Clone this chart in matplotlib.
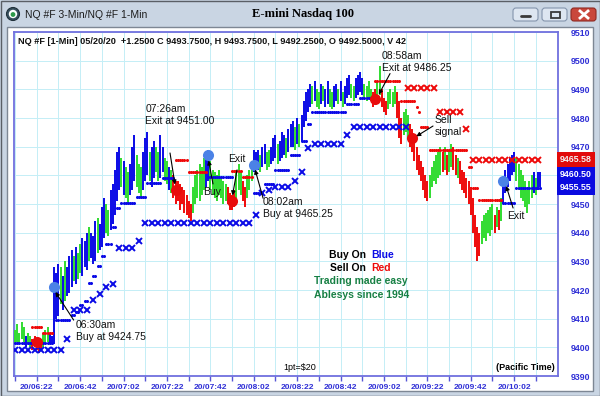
import numpy as np
import matplotlib
matplotlib.use("Agg")
import matplotlib.pyplot as plt
from matplotlib.patches import Rectangle, FancyBboxPatch, Circle
from matplotlib.colors import LinearSegmentedColormap
import matplotlib.transforms as mtransforms

plt.rcParams['font.family'] = ['Liberation Sans', 'DejaVu Sans']

START = 6 * 60 + 12  # first 1-min bar is 06:12 (Pacific)

# 1-min bars: low / high / colour (b=blue, g=green, r=red), one per minute from 06:12
lows = [
    9401, 9402, 9401, 9403, 9402, 9400, 9401, 9400, 9399, 9400, 9399, 9398, 9399, 9400, 9401, 9402, 9401, 9401, 9401, 9410,
    9411, 9415, 9413, 9416, 9418, 9419, 9421, 9423, 9422, 9424, 9426, 9425, 9428, 9427, 9430, 9431, 9429, 9430, 9433, 9434,
    9435, 9438, 9440, 9439, 9441, 9443, 9446, 9451, 9455, 9456, 9453, 9452, 9450, 9453, 9455, 9458, 9456, 9454, 9452, 9455,
    9458, 9460, 9458, 9456, 9459, 9461, 9458, 9459, 9461, 9458, 9457, 9455, 9454, 9452, 9450, 9451, 9448, 9450, 9447, 9446,
    9445, 9444, 9447, 9450, 9452, 9451, 9453, 9455, 9456, 9458, 9455, 9453, 9452, 9451, 9453, 9452, 9450, 9451, 9450, 9448,
    9448, 9449, 9452, 9455, 9453, 9451, 9449, 9452, 9455, 9458, 9461, 9462, 9462, 9461, 9463, 9464, 9462, 9463, 9464, 9465,
    9466, 9464, 9465, 9466, 9467, 9466, 9468, 9470, 9470, 9469, 9471, 9470, 9472, 9477, 9479, 9482, 9484, 9485, 9486, 9484,
    9483, 9485, 9486, 9484, 9485, 9484, 9483, 9484, 9486, 9485, 9486, 9484, 9485, 9487, 9488, 9487, 9486, 9487, 9488, 9489,
    9488, 9487, 9486, 9487, 9486, 9484, 9485, 9486, 9488, 9484, 9482, 9481, 9483, 9485, 9484, 9485, 9480, 9473, 9471, 9474,
    9475, 9473, 9470, 9468, 9465, 9462, 9460, 9458, 9455, 9452, 9451, 9452, 9456, 9458, 9457, 9459, 9460, 9461, 9462, 9460,
    9461, 9463, 9462, 9460, 9459, 9457, 9455, 9454, 9452, 9450, 9446, 9440, 9435, 9430, 9432, 9436, 9438, 9437, 9440, 9439,
    9441, 9440, 9442, 9441, 9444, 9450, 9454, 9456, 9458, 9460, 9461, 9458, 9455, 9452, 9451, 9449, 9447, 9450, 9452, 9454,
    9453, 9455, 9456,
]
highs = [
    9406, 9408, 9405, 9409, 9407, 9404, 9405, 9404, 9403, 9404, 9402, 9402, 9403, 9405, 9406, 9407, 9405, 9404, 9428, 9426,
    9429, 9428, 9425, 9430, 9428, 9432, 9434, 9432, 9435, 9433, 9436, 9438, 9437, 9440, 9442, 9440, 9439, 9444, 9445, 9443,
    9449, 9452, 9450, 9448, 9455, 9457, 9462, 9468, 9470, 9466, 9465, 9463, 9461, 9464, 9470, 9474, 9467, 9464, 9463, 9468,
    9473, 9475, 9468, 9470, 9472, 9470, 9468, 9474, 9470, 9466, 9465, 9463, 9462, 9460, 9458, 9458, 9457, 9456, 9455, 9453,
    9451, 9450, 9456, 9460, 9462, 9464, 9463, 9466, 9468, 9469, 9465, 9462, 9461, 9460, 9462, 9459, 9458, 9457, 9456, 9454,
    9453, 9455, 9462, 9464, 9461, 9458, 9456, 9460, 9462, 9465, 9469, 9468, 9469, 9467, 9470, 9471, 9468, 9469, 9470, 9473,
    9474, 9471, 9472, 9475, 9474, 9473, 9476, 9478, 9479, 9477, 9480, 9478, 9481, 9486, 9489, 9490, 9492, 9491, 9493, 9490,
    9489, 9492, 9491, 9490, 9493, 9490, 9489, 9491, 9492, 9490, 9493, 9489, 9491, 9494, 9495, 9492, 9491, 9494, 9495, 9496,
    9494, 9492, 9491, 9493, 9490, 9489, 9490, 9493, 9498, 9490, 9487, 9486, 9489, 9490, 9489, 9491, 9489, 9486, 9480, 9482,
    9483, 9481, 9478, 9476, 9474, 9470, 9467, 9465, 9463, 9460, 9458, 9460, 9463, 9465, 9467, 9468, 9470, 9468, 9470, 9467,
    9469, 9471, 9470, 9467, 9466, 9465, 9462, 9461, 9459, 9458, 9456, 9452, 9446, 9442, 9440, 9444, 9446, 9447, 9448, 9449,
    9450, 9446, 9449, 9448, 9452, 9458, 9462, 9464, 9466, 9467, 9468, 9466, 9464, 9462, 9460, 9458, 9455, 9458, 9460, 9461,
    9459, 9461, 9461,
]
bar_colors = ("gggggbggrrrrrgggbbbb" "bgbgbbbgbggbbbgbbbgb" "bbggbbbbbgbggbbbgggb"
              "bbgbbggbbggbgrrrrrrr" "rrggggggbbggggggggrr" "rrgggrrgggbbbgbbggbb"
              "bgbbbgbbbgbgbbbbbgbg" "gbgbbggbbgbgbbbggbbb" "bggggrrggrrrggggrrrg"
              "ggrrrrrrrrrggggggrgr" "ggrrgrrrrrrrrrrggggg" "grgrgbbbbbbggggggggb"
              "gbb")

# trailing stops (dots, 1-min): (first minute, last minute, price)
blue_dot_steps = [
    (0, 17, 9401.5), (19, 25, 9409.5), (26, 27, 9411.3), (28, 29, 9412.5), (30, 31, 9414.8),
    (32, 33, 9416), (34, 35, 9422.4), (36, 37, 9425), (38, 39, 9428.5), (40, 41, 9432),
    (42, 44, 9436), (45, 46, 9442), (47, 48, 9448.6), (49, 55, 9450.4), (56, 60, 9452.5),
    (61, 67, 9457.5), (68, 73, 9459), (89, 100, 9459.3), (110, 114, 9454), (115, 119, 9457),
    (120, 126, 9462), (127, 131, 9467), (132, 134, 9472), (135, 136, 9478), (137, 152, 9482),
    (153, 158, 9485), (159, 165, 9487), (225, 230, 9450.3), (231, 242, 9455.6),
]
red_dot_steps = [
    (8, 12, 9407), (13, 17, 9405), (74, 79, 9465.5), (80, 88, 9461), (100, 104, 9461.5),
    (105, 109, 9459.5), (166, 177, 9493), (178, 184, 9486), (185, 185, 9484), (186, 186, 9482),
    (187, 190, 9477), (191, 208, 9469), (209, 210, 9463), (211, 213, 9455.6), (214, 224, 9451.4),
]

# 3-min stops (crosses)
blue_x_t = list(range(0, 181, 3))
blue_x_v = [9399] * 8 + [9403] + [9413] * 3 + [9416.5, 9418.5, 9421, 9422] + [9434.5] * 3 + [9437] \
    + [9443.5] * 17 + [9446, 9454, 9455, 9456, 9456, 9456, 9458, 9461, 9469.5] + [9471] * 5 + [9474] + [9477] * 9
red_x_t = list(range(181, 242, 3))
red_x_v = [9490.5] * 5 + [9482] * 4 + [9476] + [9465.5] * 11

# entry / exit signals
buy_t = [18, 89, 110, 225]
buy_v = [9421, 9467, 9463.6, 9458]
sell_t = [10, 74, 100, 166, 183]
sell_v = [9402, 9455, 9451, 9486.6, 9473]

# call-outs: text, text anchor (minute, price), arrow start, arrow tip
notes = [
    ("06:30am\nBuy at 9424.75", (28.1, 9409.5), (27.0, 9409.5), (18.6, 9419.3)),
    ("07:26am\nExit at 9451.00", (60.0, 9485.0), (71.4, 9467.8), (73.7, 9456.8)),
    ("Exit", (98.0, 9467.5), (102.3, 9461.9), (100.2, 9453.0)),
    ("Buy", (86.6, 9456.0), (91.2, 9457.0), (89.2, 9465.2)),
    ("08:02am\nBuy at 9465.25", (114.3, 9452.5), (114.3, 9452.0), (110.6, 9462.0)),
    ("08:58am\nExit at 9486.25", (169.0, 9503.5), (172.8, 9495.5), (167.6, 9488.2)),
    ("Sell\nsignal", (193.5, 9481.0), (192.6, 9477.2), (184.9, 9473.6)),
    ("Exit", (226.7, 9447.5), (229.5, 9448.6), (226.3, 9456.3)),
]

y_ticks = list(range(9390, 9511, 10))
last_red = 9465.58
last_blue = [9460.50, 9455.55]

BLUE = '#0a0ae6'
GREEN = '#30dc30'
RED = '#ee0a0a'
cmap = {'b': BLUE, 'g': GREEN, 'r': RED}

W, H = 600, 396
fig = plt.figure(figsize=(6, 3.96), dpi=100)

# ---- window chrome, pixel coordinates ----
bg = fig.add_axes([0, 0, 1, 1])
bg.axis('off')
bg.add_patch(Rectangle((0, 0), W, H, color='#c9d5e3'))
grad = np.linspace(0, 1, 50)[:, None]
bg.imshow(grad, extent=(0, W, 27, 0), aspect='auto',
          cmap=LinearSegmentedColormap.from_list('tb', ['#e6eef8', '#c6d6ea']))
bg.add_patch(Rectangle((7, 27), W - 14, H - 32, fc='white', ec='#7d8794', lw=1))
bg.add_patch(Rectangle((0.5, 0.5), W - 1, H - 1, fill=False, ec='#5a5f66', lw=1))
bg.set_xlim(0, W)
bg.set_ylim(H, 0)

bg.add_patch(Circle((13, 14), 6.5, fc='#37505e', ec='#20303a', lw=0.8))
bg.add_patch(Circle((13, 14), 4.2, fc='white', ec='none'))
bg.add_patch(Circle((13, 14.5), 2.4, fc='#2e9a4a', ec='none'))
bg.text(25, 14.5, 'NQ #F 3-Min/NQ #F 1-Min', fontsize=7.5, color='#1c1c1c', va='center')
bg.text(303, 14.5, 'E-mini Nasdaq 100', fontsize=9, weight='bold', va='center', ha='center',
        family=['Liberation Serif', 'DejaVu Serif'])

for x0, fc, ec in [(513, '#dde6f1', '#8495ad'), (542, '#dde6f1', '#8495ad'), (571, '#c9473b', '#8e2a22')]:
    bg.add_patch(FancyBboxPatch((x0, 8), 25, 13, boxstyle='round,pad=0,rounding_size=3',
                                fc=fc, ec=ec, lw=0.8))
bg.plot([521, 530], [15.5, 15.5], color='#3a3a3a', lw=2, solid_capstyle='round')
bg.add_patch(Rectangle((550.5, 11.5), 9, 6.5, fill=False, ec='#3a3a3a', lw=1.3))
bg.plot([580, 588], [11, 18], color='white', lw=2)
bg.plot([580, 588], [18, 11], color='white', lw=2)

# ---- price chart ----
ax = fig.add_axes([14 / W, 1 - 376 / H, 544 / W, 344 / H])
ax.set_facecolor('none')
ax.set_xlim(-0.5, 250.2)
ax.set_ylim(9390, 9510)

ax.text(0.0075, 0.971, 'NQ #F [1-Min] 05/20/20  +1.2500 C 9493.7500, H 9493.7500, L 9492.2500, O 9492.5000, V 42',
        transform=ax.transAxes, fontsize=6.6, weight='bold', va='center', color='#111111', zorder=6)

t = np.arange(len(lows))
ax.vlines(t, lows, highs, colors=[cmap[c] for c in bar_colors], lw=1.4, zorder=3)

for s, e, v in blue_dot_steps:
    xs = np.arange(s, e + 1)
    ax.plot(xs, [v] * len(xs), 'o', ms=2.2, color=BLUE, mec='none', zorder=4)
for s, e, v in red_dot_steps:
    xs = np.arange(s, e + 1)
    ax.plot(xs, [v] * len(xs), 'o', ms=2.2, color=RED, mec='none', zorder=4)

ax.plot(blue_x_t, blue_x_v, 'x', ms=5, mew=1.4, color=BLUE, ls='none', zorder=4)
ax.plot(red_x_t, red_x_v, 'x', ms=5, mew=1.4, color=RED, ls='none', zorder=4)

ax.plot(buy_t, buy_v, 'o', ms=8, color='#4b82e6', mec='none', ls='none', zorder=5)
ax.plot(sell_t, sell_v, 'o', ms=8, color='#e80c0c', mec='none', ls='none', zorder=5)

for txt, tp, a0, a1 in notes:
    ax.text(tp[0], tp[1], txt, fontsize=7.5, va='top', ha='left', color='#111111',
            linespacing=1.25, zorder=6)
    ax.annotate('', xy=a1, xytext=a0, zorder=6,
                arrowprops=dict(arrowstyle='-|>', color='black', lw=0.8,
                                mutation_scale=6, shrinkA=0, shrinkB=0))

ax.text(163.1, 9432.2, 'Buy On ', fontsize=7.5, weight='bold', ha='right', va='center', color='black')
ax.text(164.0, 9432.2, 'Blue', fontsize=7.5, weight='bold', ha='left', va='center', color=BLUE)
ax.text(163.1, 9427.6, 'Sell On ', fontsize=7.5, weight='bold', ha='right', va='center', color='black')
ax.text(164.0, 9427.6, 'Red', fontsize=7.5, weight='bold', ha='left', va='center', color=RED)
ax.text(159.5, 9423.0, 'Trading made easy', fontsize=7.5, weight='bold', ha='center', va='center', color='#178044')
ax.text(159.5, 9418.2, 'Ablesys since 1994', fontsize=7.5, weight='bold', ha='center', va='center', color='#178044')

ax.text(0.526, 0.025, '1pt=$20', transform=ax.transAxes, fontsize=6.5, ha='center', va='center')
ax.text(0.994, 0.025, '(Pacific Time)', transform=ax.transAxes, fontsize=6.5, weight='bold',
        ha='right', va='center')

# axes styling; the 9460 label sits under the last-value box
ax.set_yticks(y_ticks)
ax.set_yticklabels(['' if v == 9460 else str(v) for v in y_ticks])
ax.yaxis.tick_right()
ax.tick_params(axis='y', length=0, pad=9, labelsize=6.3, labelcolor='#2f2fd6')
for lbl in ax.get_yticklabels():
    lbl.set_fontweight('bold')

major = list(range(10, 241, 20))
minor = list(range(0, 241, 20))
ax.set_xticks(major)
ax.set_xticks(minor, minor=True)
ax.set_xticklabels(['20/%02d:%02d' % divmod(START + m, 60) for m in major])
ax.tick_params(axis='x', which='both', length=3.5, width=1, color='#5656d6', direction='out', pad=2.5,
               labelsize=6, labelcolor='#2f2fd6')
for lbl in ax.get_xticklabels():
    lbl.set_fontweight('bold')

ax.grid(which='both', color='#c4eef6', lw=0.7, zorder=0)
ax.set_axisbelow(True)
for sp in ax.spines.values():
    sp.set_color('#7070de')
    sp.set_linewidth(1.3)

# last-value boxes on the price scale
trans = mtransforms.blended_transform_factory(ax.transAxes, ax.transData)
ax.text(1.003, last_red, '%.2f' % last_red, transform=trans, fontsize=6.3, weight='bold', color='#f2f2f2',
        ha='left', va='center', clip_on=False, zorder=7,
        bbox=dict(boxstyle='square,pad=0.35', fc='#e20a0a', ec='none'))
ax.text(1.003, np.mean(last_blue), '\n'.join('%.2f' % v for v in last_blue), transform=trans,
        fontsize=6.3, weight='bold', color='white', ha='left', va='center', linespacing=1.45,
        clip_on=False, zorder=7, bbox=dict(boxstyle='square,pad=0.35', fc='#0a0ae0', ec='none'))

fig.savefig('out.png', dpi=100)
